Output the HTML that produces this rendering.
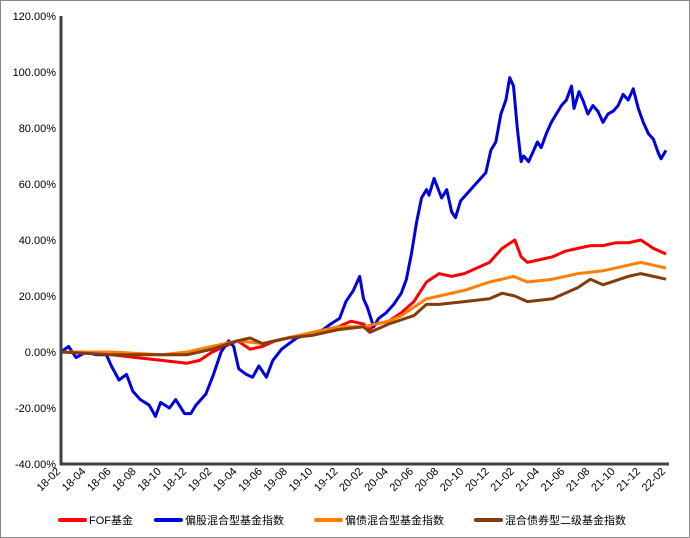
<!DOCTYPE html>
<html><head><meta charset="utf-8"><style>
body{margin:0;background:#fff;}
#wrap{position:relative;width:688px;height:536px;border:1px solid #888;overflow:hidden;}
svg text{font-family:"Liberation Sans","Noto Sans CJK SC",sans-serif;font-size:11px;fill:#000;}
</style></head><body>
<div id="wrap">
<svg id="chart" width="688" height="536"></svg>
</div>
<script>
const xTickLabels=["18-02","18-04","18-06","18-08","18-10","18-12","19-02","19-04","19-06","19-08","19-10","19-12","20-02","20-04","20-06","20-08","20-10","20-12","21-02","21-04","21-06","21-08","21-10","21-12","22-02"];
const yTicks=[-40,-20,0,20,40,60,80,100,120];
const seriesNames=["FOF基金","偏股混合型基金指数","偏债混合型基金指数","混合债券型二级基金指数"];
const blueMonths=[0,0.6,1.2,2,2.8,3.6,4,4.6,5.2,5.7,6.3,7,7.5,7.9,8.6,9.1,9.8,10.3,10.7,11.5,12.1,12.7,13.3,13.7,14.1,14.7,15.2,15.7,16.3,16.8,17.5,18.1,18.7,19.4,20.2,20.8,21.4,22.1,22.6,23.2,23.7,24,24.3,24.8,25.2,25.8,26.4,27,27.4,27.8,28.2,28.6,29,29.2,29.6,30.2,30.6,31,31.3,31.7,32.1,32.5,32.9,33.3,33.7,34.1,34.5,34.9,35.3,35.6,35.9,36.2,36.5,36.7,37.1,37.5,37.8,38.1,38.5,38.9,39.3,39.7,40.1,40.5,40.7,41.1,41.4,41.8,42.2,42.6,43,43.4,43.8,44.2,44.6,45,45.4,45.8,46.2,46.6,47,47.4,47.6,48];
const blueValues=[0,2,-2,0,-1,-1,-5,-10,-8,-14,-17,-19,-23,-18,-20,-17,-22,-22,-19,-15,-8,0,4,2,-6,-8,-9,-5,-9,-3,1,3,5,6,7,8,10,12,18,22,27,19,16,9,12,14,17,21,26,35,46,55,58,56,62,55,58,50,48,54,56,58,60,62,64,72,75,85,90,98,95,80,68,70,68,72,75,73,78,82,85,88,90,95,87,93,90,85,88,86,82,85,86,88,92,90,94,87,82,78,76,71,69,72];
const redMonths=[0,2,4,6,8,10,11,12,13,14,15,16,17,18,20,22,23,24,24.5,25,26,27,28,29,30,31,32,33,34,35,36,36.5,37,38,39,40,41,42,43,44,45,46,47,48];
const redValues=[0,0,-1,-2,-3,-4,-3,0,2,4,1,2,4,5,7,9,11,10,8,10,11,14,18,25,28,27,28,30,32,37,40,34,32,33,34,36,37,38,38,39,39,40,37,35];
const orangeMonths=[0,4,8,10,12,14,16,18,20,22,24,26,27,28,29,30,32,34,35,35.9,37,39,41,43,45,46,47,48];
const orangeValues=[0,0,-1,0,2,4,3,5,7,9,9,11,13,16,19,20,22,25,26,27,25,26,28,29,31,32,31,30];
const brownMonths=[0,4,8,10,12,14,15,16,18,20,22,24,24.5,26,28,29,30,32,34,35,36,37,39,41,42,43,45,46,47,48];
const brownValues=[0,-1,-1,-1,1,4,5,3,5,6,8,9,7,10,13,17,17,18,19,21,20,18,19,23,26,24,27,28,27,26];

const NS="http://www.w3.org/2000/svg";
const svg=document.getElementById('chart');
const X0=60,X1=665,Y0=463,Y1=15;
const xs=t=>X0+t/48*(X1-X0);
const ys=v=>Y0-(v+40)/160*(Y0-Y1);
function mk(tag,attrs){const e=document.createElementNS(NS,tag);for(const k in attrs)e.setAttribute(k,attrs[k]);svg.appendChild(e);return e;}

yTicks.forEach(v=>{
  const t=mk('text',{x:55,y:ys(v)+4,'text-anchor':'end'});
  t.textContent=v.toFixed(2)+'%';
  
  
});
xTickLabels.forEach((l,i)=>{
  const x=xs(i*2),y=Y0+8;
  const t=mk('text',{x:x,y:y,'text-anchor':'end',transform:`rotate(-45 ${x} ${y})`});
  t.textContent=l;
  
  
});
const series=[[brownMonths,brownValues,'#843C0C','series-brown'],[orangeMonths,orangeValues,'#FF7F00','series-orange'],[redMonths,redValues,'#FF0000','series-fof'],[blueMonths,blueValues,'#0000E0','series-equity']];
[series[2],series[3],series[1],series[0]].forEach(s=>{
  const d=s[0].map((m,i)=>(i?'L':'M')+xs(m).toFixed(1)+' '+ys(s[1][i]).toFixed(1)).join(' ');
  const p=mk('path',{d:d,fill:'none',stroke:s[2],'stroke-width':3,'stroke-linejoin':'round'});
  
  
});
const ax=mk('path',{d:`M${X0} ${Y1} L${X0} ${Y0} L668 ${Y0}`,fill:'none',stroke:'#404040','stroke-width':3});



const legX=[59,155,315,475],legC=['#FF0000','#0000E0','#FF7F00','#843C0C'];
seriesNames.forEach((n,i)=>{
  const l=mk('line',{x1:legX[i],x2:legX[i]+25,y1:519,y2:519,stroke:legC[i],'stroke-width':4,'stroke-linecap':'round'});
  
  
  const t=mk('text',{x:legX[i]+29,y:523});
  t.textContent=n;
  
  
});
</script>
</body></html>
